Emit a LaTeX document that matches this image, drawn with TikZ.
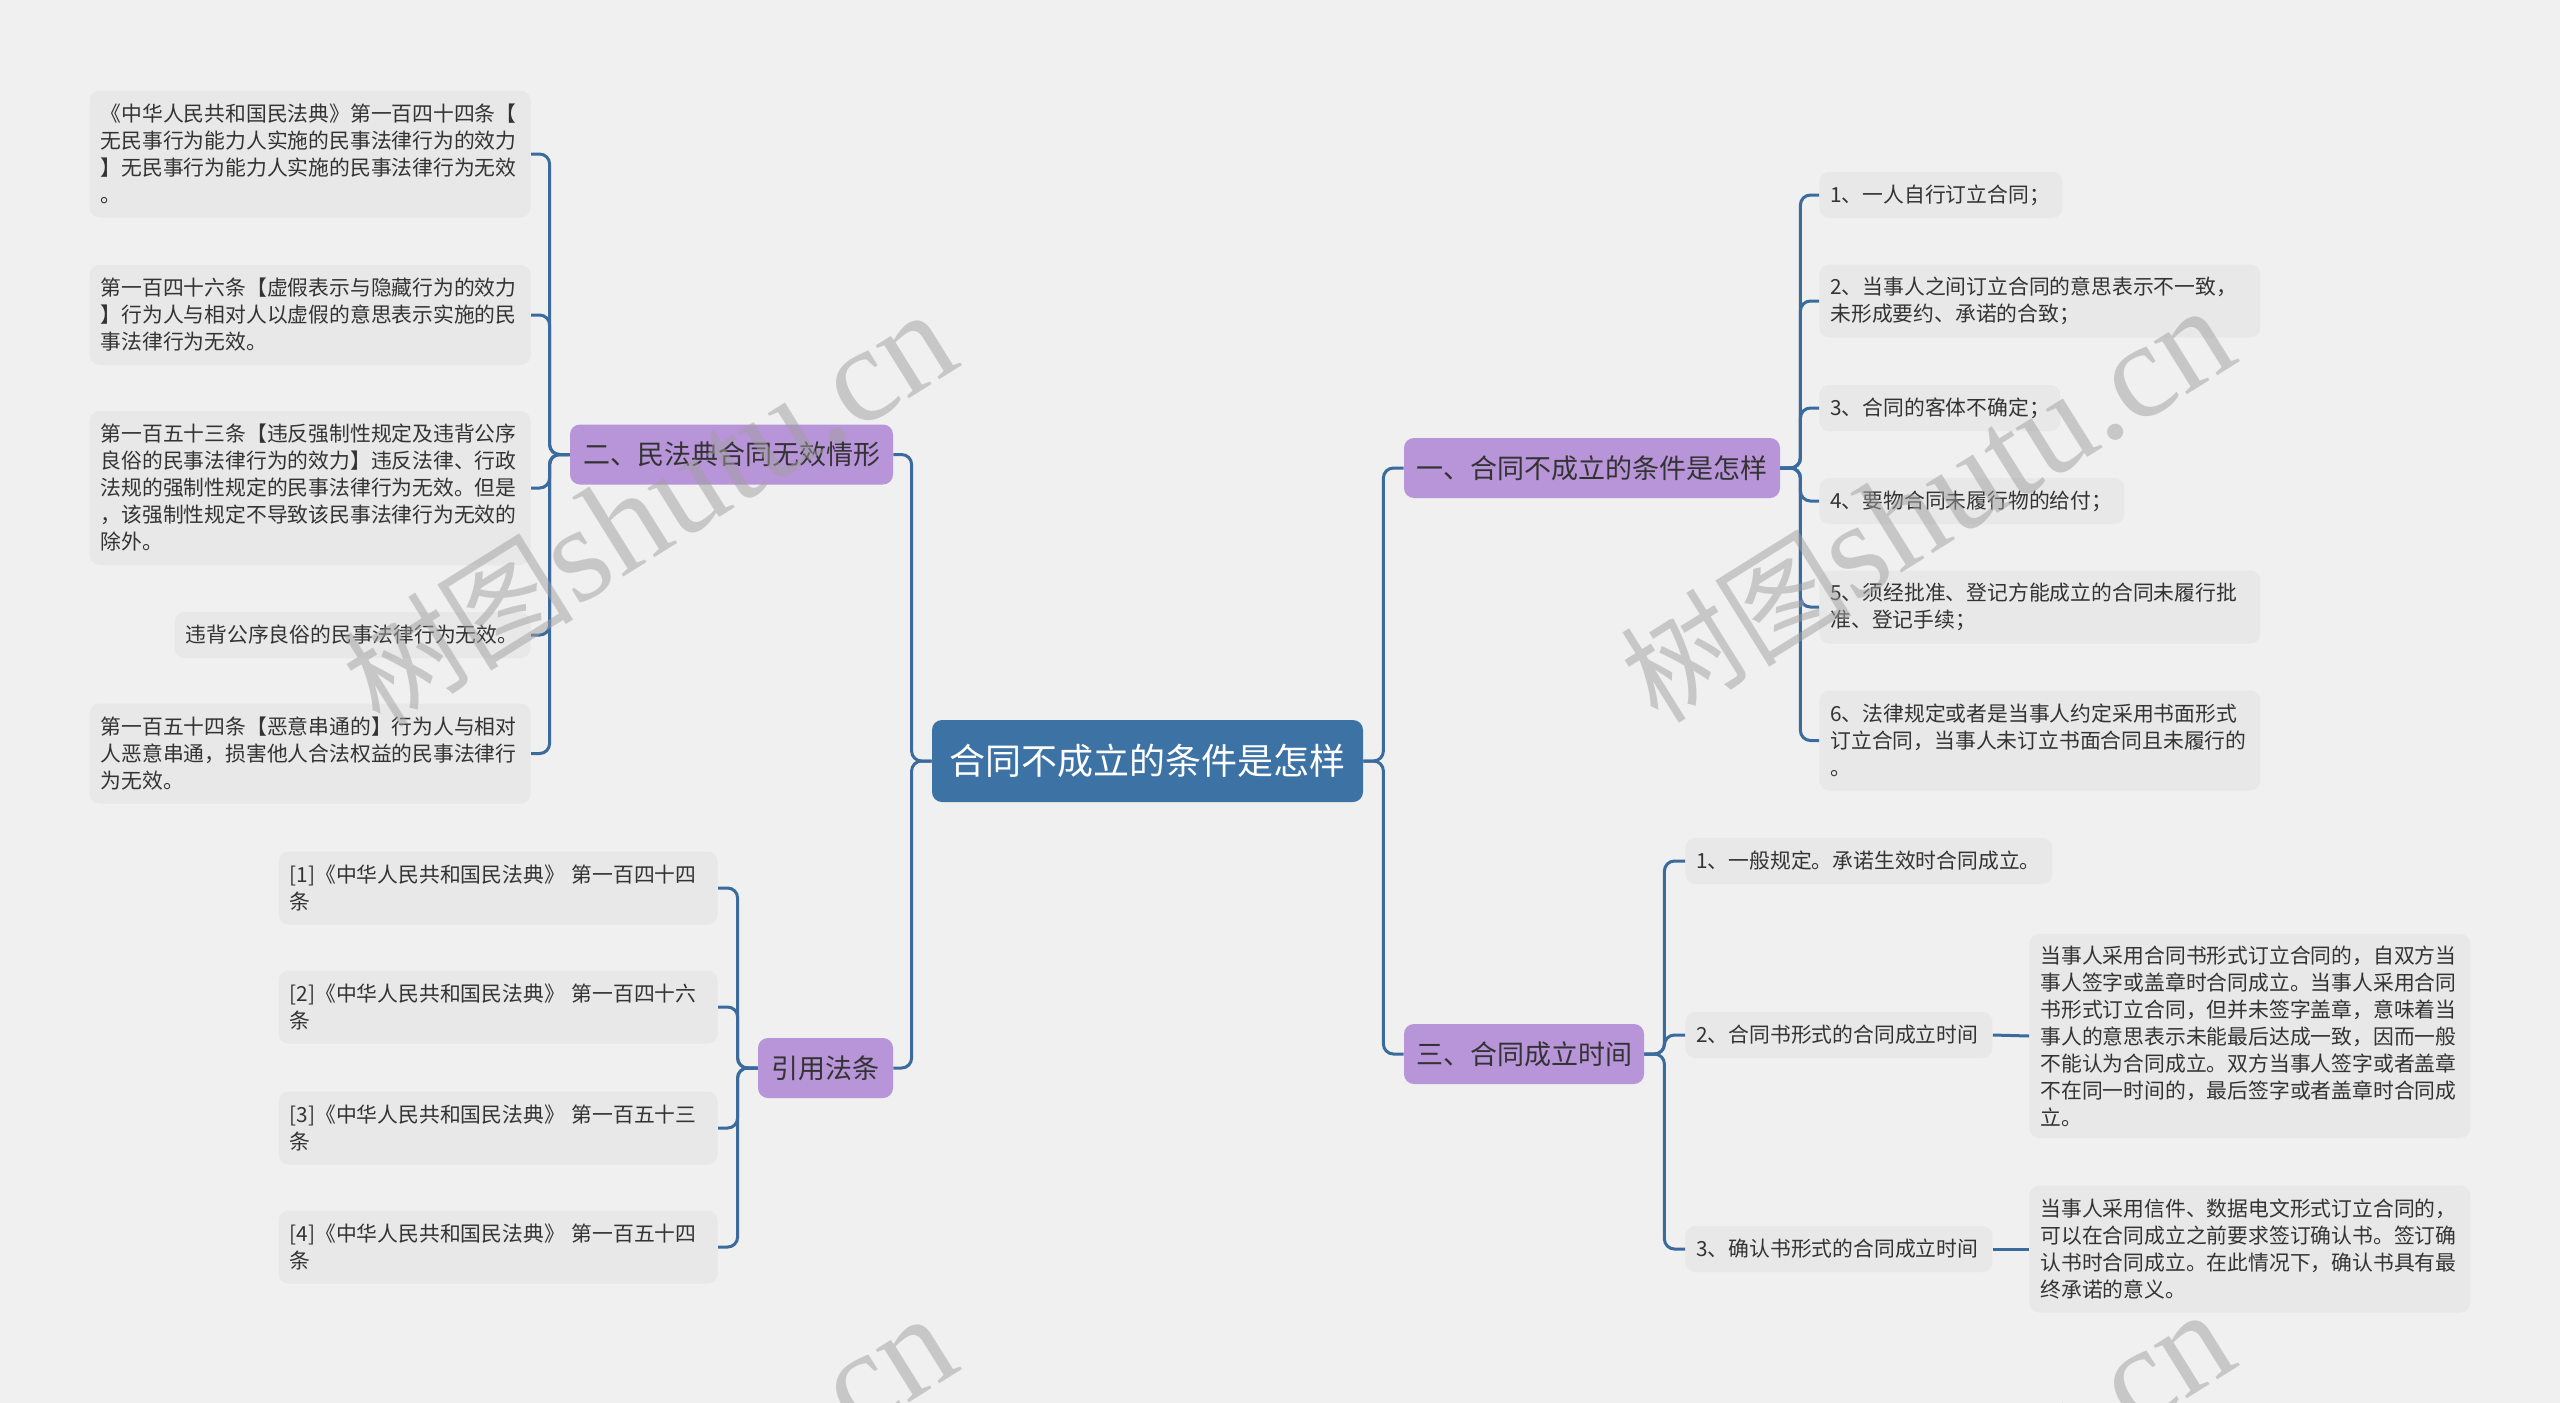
\documentclass[tikz,border=0pt]{standalone}
\usepackage{fontspec}
\setmainfont{Noto Sans CJK SC}
\newfontfamily\wmserif{Liberation Serif}
\usetikzlibrary{positioning}
\usepackage{xcolor}

\definecolor{bgcol}{HTML}{F0F0F0}
\definecolor{leafcol}{HTML}{E8E8E8}
\definecolor{rootcol}{HTML}{3D72A4}
\definecolor{branchcol}{HTML}{B894D8}
\definecolor{linecol}{HTML}{3A6B9C}
\definecolor{txtcol}{HTML}{333333}
\definecolor{wmcol}{HTML}{A0A0A0}

\begin{document}
\begin{tikzpicture}[x=0.5pt, y=-0.5pt,
  link/.style={draw=linecol, line width=1.5pt, rounded corners=5pt},
  rootbox/.style={fill=rootcol, text=white, rounded corners=5pt, font=\fontsize{18}{22}\selectfont, minimum width=215.5pt, minimum height=41pt, inner sep=0pt},
  branch/.style={fill=branchcol, text=txtcol, rounded corners=5pt, font=\fontsize{13.5}{16}\selectfont, minimum height=30pt, inner sep=0pt, minimum width=#1},
  leaf/.style={fill=leafcol, text=txtcol, rounded corners=5pt, align=left, font=\fontsize{10.4}{13.5}\selectfont, inner xsep=5.5pt, inner ysep=2pt, text width=#1},
  nlines/.style={minimum height=9.5pt+#1*13.5pt},
  wmark/.style={text=wmcol, opacity=0.5, rotate=32, inner sep=0pt}]
\useasboundingbox (0,0) rectangle (2560,1403);
\fill[bgcol] (0,0) rectangle (2560,1403);

% centre and main branches
\node[rootbox] (root) at (1147.5,761) {合同不成立的条件是怎样};
\node[branch=188pt] (cond) at (1592,468) {一、合同不成立的条件是怎样};
\node[branch=161.5pt] (invalid) at (731.5,454.5) {二、民法典合同无效情形};
\node[branch=67.5pt] (cite) at (825.5,1068) {引用法条};
\node[branch=120pt] (time) at (1524,1054) {三、合同成立时间};

% 二
\node[leaf=209.5pt, nlines=4, anchor=east] (inv1) at (531,154) {《中华人民共和国民法典》第一百四十四条【\\无民事行为能力人实施的民事法律行为的效力\\】无民事行为能力人实施的民事法律行为无效\\。};
\node[leaf=209.5pt, nlines=3, anchor=east] (inv2) at (531,315) {第一百四十六条【虚假表示与隐藏行为的效力\\】行为人与相对人以虚假的意思表示实施的民\\事法律行为无效。};
\node[leaf=209.5pt, nlines=5, anchor=east] (inv3) at (531,488) {第一百五十三条【违反强制性规定及违背公序\\良俗的民事法律行为的效力】违反法律、行政\\法规的强制性规定的民事法律行为无效。但是\\，该强制性规定不导致该民事法律行为无效的\\除外。};
\node[leaf=167pt, nlines=1, anchor=east] (inv4) at (531,635) {违背公序良俗的民事法律行为无效。};
\node[leaf=209.5pt, nlines=3, anchor=east] (inv5) at (531,753.5) {第一百五十四条【恶意串通的】行为人与相对\\人恶意串通，损害他人合法权益的民事法律行\\为无效。};

% 引用法条
\node[leaf=208.5pt, nlines=2, anchor=east] (cite1) at (718,888) {[1]《中华人民共和国民法典》 第一百四十四\\条};
\node[leaf=208.5pt, nlines=2, anchor=east] (cite2) at (718,1007) {[2]《中华人民共和国民法典》 第一百四十六\\条};
\node[leaf=208.5pt, nlines=2, anchor=east] (cite3) at (718,1128) {[3]《中华人民共和国民法典》 第一百五十三\\条};
\node[leaf=208.5pt, nlines=2, anchor=east] (cite4) at (718,1247) {[4]《中华人民共和国民法典》 第一百五十四\\条};

% 一
\node[leaf=110.5pt, nlines=1, anchor=west] (cond1) at (1819,195) {1、一人自行订立合同；};
\node[leaf=209.5pt, nlines=2, anchor=west] (cond2) at (1819,301) {2、当事人之间订立合同的意思表示不一致，\\未形成要约、承诺的合致；};
\node[leaf=109.5pt, nlines=1, anchor=west] (cond3) at (1819,408) {3、合同的客体不确定；};
\node[leaf=141.5pt, nlines=1, anchor=west] (cond4) at (1819,501) {4、要物合同未履行物的给付；};
\node[leaf=209.5pt, nlines=2, anchor=west] (cond5) at (1819,607) {5、须经批准、登记方能成立的合同未履行批\\准、登记手续；};
\node[leaf=209.5pt, nlines=3, anchor=west] (cond6) at (1819,740.5) {6、法律规定或者是当事人约定采用书面形式\\订立合同，当事人未订立书面合同且未履行的\\。};

% 三
\node[leaf=172.5pt, nlines=1, anchor=west] (time1) at (1685,861) {1、一般规定。承诺生效时合同成立。};
\node[leaf=142.5pt, nlines=1, anchor=west] (time2) at (1685,1035) {2、合同书形式的合同成立时间};
\node[leaf=142.5pt, nlines=1, anchor=west] (time3) at (1685,1249) {3、确认书形式的合同成立时间};
\node[leaf=209.5pt, minimum height=102pt, anchor=west] (det2) at (2029,1036) {当事人采用合同书形式订立合同的，自双方当\\事人签字或盖章时合同成立。当事人采用合同\\书形式订立合同，但并未签字盖章，意味着当\\事人的意思表示未能最后达成一致，因而一般\\不能认为合同成立。双方当事人签字或者盖章\\不在同一时间的，最后签字或者盖章时合同成\\立。};
\node[leaf=209.5pt, nlines=4, anchor=west] (det3) at (2029,1249) {当事人采用信件、数据电文形式订立合同的，\\可以在合同成立之前要求签订确认书。签订确\\认书时合同成立。在此情况下，确认书具有最\\终承诺的意义。};

% connectors
\foreach \b in {invalid,cite}
  \draw[link] (root.west) -- ++(-20,0) |- (\b.east);
\foreach \b in {cond,time}
  \draw[link] (root.east) -- ++(20,0) |- (\b.west);
\foreach \i in {1,...,5}
  \draw[link] (invalid.west) -- ++(-20,0) |- (inv\i.east);
\foreach \i in {1,...,4}
  \draw[link] (cite.west) -- ++(-20,0) |- (cite\i.east);
\foreach \i in {1,...,6}
  \draw[link] (cond.east) -- ++(20,0) |- (cond\i.west);
\foreach \i in {1,2,3}
  \draw[link] (time.east) -- ++(20,0) |- (time\i.west);
\draw[link] (time2.east) -- (det2.west);
\draw[link] (time3.east) -- (det3.west);

% watermark
\begin{scope}
\clip (0,0) rectangle (2560,1403);
\foreach \wx/\wy in {649/510, 1927/506, 649/1514, 1927/1510}
  \node[wmark] (wm) at (\wx,\wy) {\fontsize{58}{60}\selectfont 树图\wmserif\fontsize{68}{70}\selectfont shutu.cn};
\end{scope}
\end{tikzpicture}
\end{document}
